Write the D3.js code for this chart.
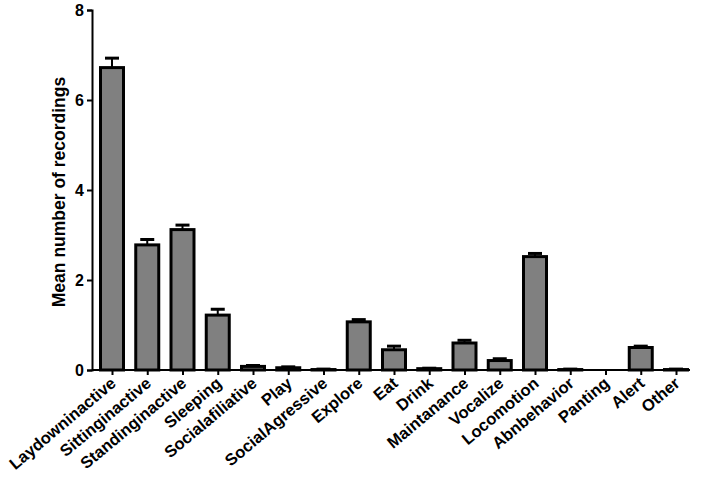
<!DOCTYPE html><html><head><meta charset="utf-8"><script src="https://cdn.jsdelivr.net/npm/d3@7"></script>
<style>body{margin:0;background:#fff}text{font-family:Arial,"Liberation Sans",sans-serif;font-weight:bold}</style></head><body><svg width="706" height="494"></svg><script>
const categories=["Laydowninactive","Sittinginactive","Standinginactive","Sleeping","Socialafiliative","Play","SocialAgressive","Explore","Eat","Drink","Maintanance","Vocalize","Locomotion","Abnbehavior","Panting","Alert","Other"];
const means=[6.72,2.78,3.12,1.22,0.08,0.05,0.01,1.07,0.45,0.03,0.6,0.21,2.52,0.01,0,0.5,0.01];
const errs=[0.21,0.12,0.1,0.13,0.02,0.02,0.01,0.05,0.08,0.01,0.06,0.04,0.07,0.01,0,0.03,0.01];
const yTicks=[0,2,4,6,8];
const svg=d3.select("svg");
const y=d3.scaleLinear().domain([0,8]).range([370,10]);
const x=d3.scalePoint().domain(categories).range([112,676]);
const bw=23;
svg.append("g").attr("transform","translate(92,0)").call(d3.axisLeft(y).tickValues(yTicks).tickSize(5).tickFormat(d3.format("d")))
 .call(g=>{g.select(".domain").attr("stroke-width",2);g.selectAll("line").attr("stroke-width",2);g.selectAll("text").attr("font-size",16).attr("font-weight","bold").attr("fill","#000")});
svg.append("g").attr("transform","translate(0,370)").call(d3.axisBottom(x).tickSize(5).tickFormat(""))
 .call(g=>{g.select(".domain").attr("stroke-width",2).attr("d","M92,0H690");g.selectAll("line").attr("stroke-width",2)});
const g=svg.append("g");
categories.forEach((c,i)=>{
 const cx=x(c);
 if(errs[i]>0){
 g.append("line").attr("x1",cx).attr("x2",cx).attr("y1",y(means[i])).attr("y2",y(means[i]+errs[i])).attr("stroke","#000").attr("stroke-width",2);
 g.append("line").attr("x1",cx-7).attr("x2",cx+7).attr("y1",y(means[i]+errs[i])).attr("y2",y(means[i]+errs[i])).attr("stroke","#000").attr("stroke-width",3);}
 g.append("rect").attr("x",cx-bw/2).attr("width",bw).attr("y",y(means[i])).attr("height",370-y(means[i])).attr("fill","#808080").attr("stroke","#000").attr("stroke-width",3);
 svg.append("text").attr("transform",`translate(${cx+5},${385}) rotate(-40)`).attr("text-anchor","end").attr("font-size",16.5).text(c);
});
svg.append("text").attr("transform","translate(65,192) rotate(-90)").attr("text-anchor","middle").attr("font-size",17.5).text("Mean number of recordings");
</script></body></html>
